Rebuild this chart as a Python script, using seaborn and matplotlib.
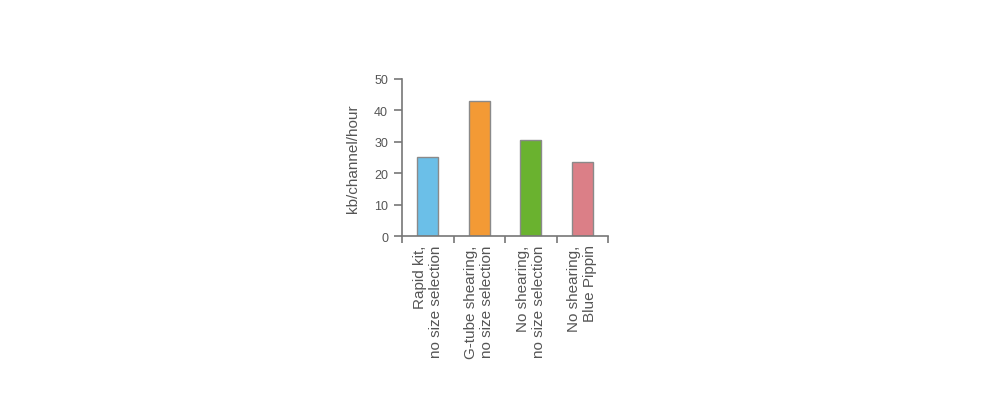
import matplotlib
matplotlib.use("Agg")
import matplotlib.pyplot as plt
import seaborn as sns
import pandas as pd
import numpy as np

categories = ["Rapid kit,\nno size selection", "G-tube shearing,\nno size selection",
              "No shearing,\nno size selection", "No shearing,\nBlue Pippin"]
values = [25.3, 43.0, 30.7, 23.7]
colors = ["#6BBFE8", "#F39A35", "#6AB22F", "#DB7F87"]
yticks = [0, 10, 20, 30, 40, 50]
ylabel = "kb/channel/hour"

sns.set_theme(style="white")
plt.rcParams['font.family'] = ['Liberation Sans', 'DejaVu Sans']

df = pd.DataFrame({"cat": categories, "val": values})
fig = plt.figure(figsize=(10, 4.14), dpi=100)
ax = fig.add_axes([0.402, 0.4275, 0.206, 0.3793])
sns.barplot(data=df, x="cat", y="val", hue="cat", palette=colors, legend=False,
            width=0.41, edgecolor="#8a8a8a", linewidth=1.0, ax=ax, saturation=1)

axis_col = "#777777"
text_col = "#555555"
ax.set_xlim(-0.5, 3.5)
ax.set_ylim(0, 50)
ax.set_yticks(yticks)
ax.set_ylabel(ylabel, fontsize=11, color=text_col, labelpad=10)
ax.set_xlabel("")
for s in ["top", "right"]:
    ax.spines[s].set_visible(False)
for s in ["left", "bottom"]:
    ax.spines[s].set_color(axis_col)
    ax.spines[s].set_linewidth(1.2)
ax.tick_params(axis="y", which="major", left=True, length=6, width=1.2, color=axis_col,
               labelsize=9, labelcolor=text_col, pad=4)
ax.set_xticks(np.arange(len(categories)))
ax.set_xticklabels(categories, rotation=90, ha="center", va="top",
                   multialignment="right", fontsize=11, color=text_col)
ax.tick_params(axis="x", which="major", length=0, pad=6)
ax.set_xticks(np.arange(-0.5, len(categories)), minor=True)
ax.tick_params(axis="x", which="minor", bottom=True, length=5, width=1.2, color=axis_col)
ax.grid(False)

fig.savefig("out.png", dpi=100, facecolor="white")
